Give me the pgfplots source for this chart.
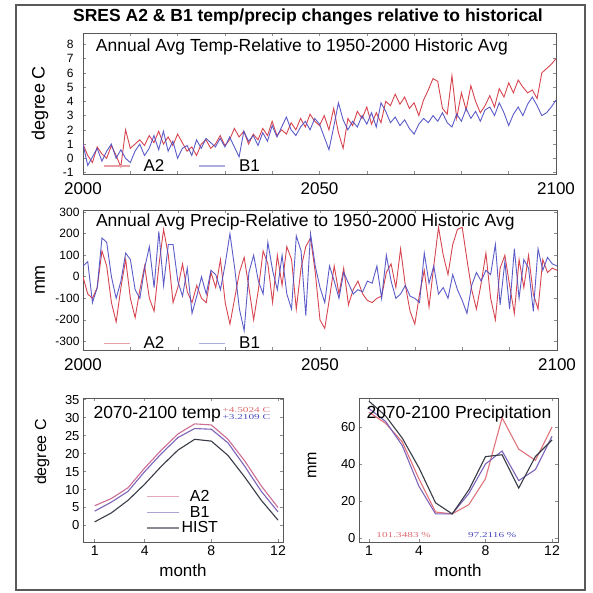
\documentclass[border=0pt]{standalone}
\usepackage{fontspec}
\setmainfont{Liberation Sans}
\newfontfamily\serifx{Liberation Serif}
\usepackage{graphicx}
\usepackage{pgfplots}
\usepackage{pgfplotstable}
\pgfplotsset{compat=1.18}

\definecolor{cA}{RGB}{215,70,80}
\definecolor{cB}{RGB}{75,75,195}
\definecolor{pA}{RGB}{205,110,150}
\definecolor{pB}{RGB}{125,100,185}
\definecolor{cH}{RGB}{55,60,70}
\definecolor{frame}{RGB}{90,90,90}
\definecolor{lA}{RGB}{232,160,165}
\definecolor{lB}{RGB}{165,165,220}

\pgfplotstableread{
year a2 b1
2000 1.0 1.0
2001 0.2 -0.5
2002 -0.3 0.1
2003 0.8 0.7
2004 0.3 -0.2
2005 0.0 0.5
2006 0.9 1.0
2007 0.2 0.0
2008 -0.6 0.6
2009 2.0 0.0
2010 0.7 -0.3
2011 1.0 0.5
2012 1.3 1.0
2013 0.9 0.2
2014 1.6 0.7
2015 1.1 1.6
2016 1.9 0.6
2017 1.0 1.9
2018 1.5 0.5
2019 0.9 1.2
2020 1.7 0.0
2021 1.1 0.7
2022 0.5 0.9
2023 0.8 0.2
2024 0.2 1.3
2025 1.0 0.7
2026 1.3 1.4
2027 0.7 1.1
2028 1.0 0.8
2029 1.6 1.4
2030 0.9 0.8
2031 1.3 1.5
2032 2.1 0.8
2033 1.5 0.1
2034 1.9 1.9
2035 1.0 1.2
2036 1.7 1.6
2037 1.3 0.9
2038 2.1 1.8
2039 1.6 1.2
2040 2.6 2.3
2041 1.6 1.5
2042 2.0 2.2
2043 1.7 2.9
2044 2.5 2.0
2045 2.0 1.6
2046 2.8 2.2
2047 2.2 2.6
2048 3.1 2.0
2049 2.6 2.8
2050 2.3 2.4
2051 3.0 1.5
2052 2.0 0.6
2053 3.5 2.2
2054 1.8 3.9
2055 0.7 2.7
2056 2.8 2.0
2057 2.3 2.6
2058 3.3 2.2
2059 2.8 3.0
2060 3.6 2.4
2061 2.4 3.2
2062 3.2 2.2
2063 2.5 3.9
2064 4.0 3.3
2065 3.7 2.5
2066 4.5 2.9
2067 3.8 2.3
2068 4.3 2.7
2069 3.5 2.1
2070 3.9 1.7
2071 3.0 2.4
2072 4.1 2.8
2073 4.8 2.5
2074 5.6 3.0
2075 5.4 2.6
2076 3.5 3.2
2077 3.1 2.5
2078 5.8 2.2
2079 2.8 3.1
2080 4.6 2.6
2081 3.4 3.5
2082 5.1 2.8
2083 4.0 3.3
2084 3.2 2.6
2085 3.7 3.4
2086 4.4 3.6
2087 3.6 3.0
2088 4.9 3.9
2089 4.3 3.2
2090 5.3 2.3
2091 4.6 3.1
2092 5.5 3.6
2093 5.0 3.0
2094 4.6 3.8
2095 4.8 4.3
2096 4.2 3.7
2097 6.0 3.0
2098 6.3 3.2
2099 6.6 3.6
2100 7.0 4.1
}\temptab

\pgfplotstableread{
year a2 b1
2000 0 50
2001 -80 70
2002 -100 -120
2003 -50 -50
2004 120 180
2005 50 160
2006 -120 0
2007 -210 -100
2008 -50 -20
2009 80 110
2010 -100 80
2011 -190 -60
2012 -60 -100
2013 50 40
2014 -100 140
2015 -160 -50
2016 50 210
2017 220 -40
2018 100 150
2019 -120 150
2020 -50 -20
2021 60 -90
2022 -70 40
2023 -120 -170
2024 -40 -90
2025 -100 0
2026 -120 -80
2027 20 30
2028 -50 10
2029 80 -60
2030 -120 60
2031 -220 200
2032 -100 40
2033 20 -150
2034 90 -250
2035 -50 20
2036 -200 100
2037 -60 -20
2038 120 -80
2039 60 160
2040 -120 30
2041 100 -60
2042 -40 100
2043 140 -80
2044 80 -150
2045 -150 190
2046 40 120
2047 140 -180
2048 180 200
2049 20 50
2050 -200 -50
2051 -240 -120
2052 -100 50
2053 50 -20
2054 -80 -100
2055 40 20
2056 -130 -30
2057 -60 -80
2058 -20 -60
2059 -80 -70
2060 -110 -20
2061 -120 -30
2062 -100 50
2063 -90 -100
2064 20 100
2065 60 -20
2066 -50 -100
2067 130 -80
2068 -40 -40
2069 -160 -90
2070 -220 -100
2071 -80 -120
2072 30 110
2073 -140 -30
2074 50 50
2075 230 -80
2076 100 -50
2077 10 -100
2078 150 10
2079 220 -60
2080 230 -110
2081 80 -170
2082 -60 -40
2083 -150 20
2084 -30 -20
2085 110 30
2086 -100 10
2087 -200 150
2088 40 -130
2089 100 70
2090 -40 -150
2091 -170 130
2092 80 -100
2093 -50 80
2094 100 40
2095 -80 -160
2096 -150 130
2097 80 30
2098 20 90
2099 40 60
2100 30 50
}\preciptab

\pgfplotstableread{
m a2 b1 hist
1 5.5 4.0 1.0
2 7.5 6.5 3.5
3 10.5 9.5 7.0
4 16.0 15.0 11.5
5 21.0 20.0 16.5
6 25.5 24.5 21.0
7 28.3 27.0 24.0
8 28.0 26.8 23.5
9 24.0 23.0 19.5
10 18.0 16.5 13.5
11 11.0 9.5 7.0
12 5.0 3.8 1.5
}\montemp

\pgfplotstableread{
m a2 b1 hist
1 68 70 74
2 62 63 66
3 52 50 54
4 32 28 38
5 14 13 19
6 13 13 13
7 18 24 26
8 32 40 44
9 65 47 45
10 48 31 27
11 42 37 44
12 60 55 53
}\monprec

\pgfplotsset{
  base/.style={
    scale only axis, anchor=north west,
    tick align=inside,
    major tick length=3pt, minor tick length=0pt,
    axis line style={draw=black!65, line width=0.9pt},
    every tick/.style={black!45, line width=0.6pt},
    /pgf/number format/assume math mode=true,
    clip=true,
  },
  xtickfont/.style={xticklabel style={font=\fontsize{17}{17}\selectfont, yshift=-5pt}},
}

\begin{document}
\begin{tikzpicture}
\path[use as bounding box] (0pt,0pt) rectangle (593pt,-593pt);
\fill[white] (0pt,0pt) rectangle (593pt,-593pt);
\draw[frame, line width=1.6pt] (16pt,-5pt) rectangle (585pt,-590pt);

\node[font=\bfseries\fontsize{17.5}{17.5}\selectfont] at (308pt,-17pt) {SRES A2 \& B1 temp/precip changes relative to historical};

% ---------- top: temperature ----------
\begin{axis}[base, xtickfont,
  at={(83pt,-33pt)}, width=473pt, height=141pt,
  xmin=2000, xmax=2100, ymin=-1.1, ymax=8.8,
  xtick={2000,2010,...,2100},
  xticklabels={2000,,,,,2050,,,,,2100},
  ytick={-1,0,...,8},
  yticklabels={-1,0,1,2,3,4,5,6,7,8},
  yticklabel style={font=\fontsize{12}{12}\selectfont, xshift=-6pt},
  legend columns=2,
  legend style={at={(0.035,-0.02)}, anchor=south west, draw=none, fill=none,
    font=\fontsize{17}{17}\selectfont,
    /tikz/every even column/.append style={column sep=32pt}},
]
\addplot[cA, line width=0.9pt, legend image code/.code={\draw[lA, line width=1.6pt] (0pt,0pt) -- (26pt,0pt); \path[draw=none] (0pt,0pt) -- (38pt,0pt);}] table[x=year, y=a2] {\temptab};
\addplot[cB, line width=0.9pt, opacity=0.9, legend image code/.code={\draw[lB, line width=1.6pt] (0pt,0pt) -- (26pt,0pt); \path[draw=none] (0pt,0pt) -- (38pt,0pt);}] table[x=year, y=b1] {\temptab};
\legend{A2, B1}
\node[anchor=base west, font=\fontsize{17.5}{17.5}\selectfont] at (rel axis cs:0.02,0.87) {Annual Avg Temp-Relative to 1950-2000 Historic Avg};
\end{axis}
\node[rotate=90, font=\fontsize{18}{18}\selectfont] at (40pt,-103pt) {degree C};

% ---------- middle: precipitation ----------
\begin{axis}[base, xtickfont,
  at={(83pt,-210pt)}, width=474pt, height=140pt,
  xmin=2000, xmax=2100, ymin=-340, ymax=310,
  xtick={2000,2010,...,2100},
  xticklabels={2000,,,,,2050,,,,,2100},
  ytick={-300,-200,...,300},
  yticklabels={-300,-200,-100,0,100,200,300},
  yticklabel style={font=\fontsize{12}{12}\selectfont},
  legend columns=2,
  legend style={at={(0.035,-0.03)}, anchor=south west, draw=none, fill=none,
    font=\fontsize{17}{17}\selectfont,
    /tikz/every even column/.append style={column sep=32pt}},
]
\addplot[cA, line width=0.9pt, legend image code/.code={\draw[lA, line width=1.6pt] (0pt,0pt) -- (26pt,0pt); \path[draw=none] (0pt,0pt) -- (38pt,0pt);}] table[x=year, y=a2] {\preciptab};
\addplot[cB, line width=0.9pt, opacity=0.9, legend image code/.code={\draw[lB, line width=1.6pt] (0pt,0pt) -- (26pt,0pt); \path[draw=none] (0pt,0pt) -- (38pt,0pt);}] table[x=year, y=b1] {\preciptab};
\legend{A2, B1}
\node[anchor=base west, font=\fontsize{17.5}{17.5}\selectfont] at (rel axis cs:0.02,0.88) {Annual Avg Precip-Relative to 1950-2000 Historic Avg};
\end{axis}
\node[rotate=90, font=\fontsize{18}{18}\selectfont] at (40pt,-280pt) {mm};

% ---------- bottom left: monthly temperature ----------
\begin{axis}[base,
  at={(83pt,-398pt)}, width=200pt, height=144pt,
  xmin=0.3, xmax=12.3, ymin=-4.6, ymax=35.5,
  xtick={1,4,8,12}, xticklabels={1,4,8,12},
  xticklabel style={font=\fontsize{14}{14}\selectfont},
  ytick={-5,0,...,35},
  yticklabels={-5,0,5,10,15,20,25,30,35},
  yticklabel style={font=\fontsize{13}{13}\selectfont},
  legend style={at={(0.3,0.38)}, anchor=north west, draw=none, fill=none,
    font=\fontsize{16}{16}\selectfont, row sep=1pt,
    nodes={inner ysep=1pt}},
  legend image code/.code={\draw[#1, line width=1.3pt, opacity=0.6] (0pt,0pt) -- (32pt,0pt);},
]
\addplot[pA, line width=1.1pt] table[x=m, y=a2] {\montemp};
\addplot[pB, line width=1.1pt] table[x=m, y=b1] {\montemp};
\addplot[cH, line width=1.1pt] table[x=m, y=hist] {\montemp};
\legend{A2, B1, HIST}
\node[anchor=base west, font=\fontsize{17.5}{17.5}\selectfont] at (rel axis cs:0.035,0.86) {2070-2100 temp};
\node[anchor=base west, text=cA!80] at (rel axis cs:0.68,0.9) {\scalebox{1.5}[1]{\serifx\fontsize{7.5}{7.5}\selectfont +4.5024 C}};
\node[anchor=base west, text=cB] at (rel axis cs:0.68,0.85) {\scalebox{1.5}[1]{\serifx\fontsize{7.5}{7.5}\selectfont +3.2109 C}};
\end{axis}
\node[rotate=90, font=\fontsize{16}{16}\selectfont] at (42pt,-452pt) {degree C};
\node[font=\fontsize{17}{17}\selectfont] at (183pt,-570pt) {month};

% ---------- bottom right: monthly precipitation ----------
\begin{axis}[base,
  at={(359pt,-398pt)}, width=199pt, height=144pt,
  xmin=0.4, xmax=12.36, ymin=-2.2, ymax=75.7,
  xtick={1,4,8,12}, xticklabels={1,4,8,12},
  xticklabel style={font=\fontsize{14}{14}\selectfont},
  ytick={0,20,40,60}, yticklabels={0,20,40,60},
  yticklabel style={font=\fontsize{13}{13}\selectfont},
]
\addplot[cA!75, line width=1.1pt] table[x=m, y=a2] {\monprec};
\addplot[pB, line width=1.1pt] table[x=m, y=b1] {\monprec};
\addplot[cH, line width=1.1pt] table[x=m, y=hist] {\monprec};
\node[anchor=base west, font=\fontsize{17.5}{17.5}\selectfont] at (rel axis cs:0.02,0.86) {2070-2100 Precipitation};
\node[anchor=base west, text=cA!80] at (rel axis cs:0.07,0.03) {\scalebox{1.5}[1]{\serifx\fontsize{7.5}{7.5}\selectfont 101.3483 \%}};
\node[anchor=base west, text=cB] at (rel axis cs:0.53,0.03) {\scalebox{1.5}[1]{\serifx\fontsize{7.5}{7.5}\selectfont 97.2116 \%}};
\end{axis}
\node[rotate=90, font=\fontsize{16}{16}\selectfont] at (312pt,-465pt) {mm};
\node[font=\fontsize{17}{17}\selectfont] at (458pt,-570pt) {month};

\end{tikzpicture}
\end{document}
